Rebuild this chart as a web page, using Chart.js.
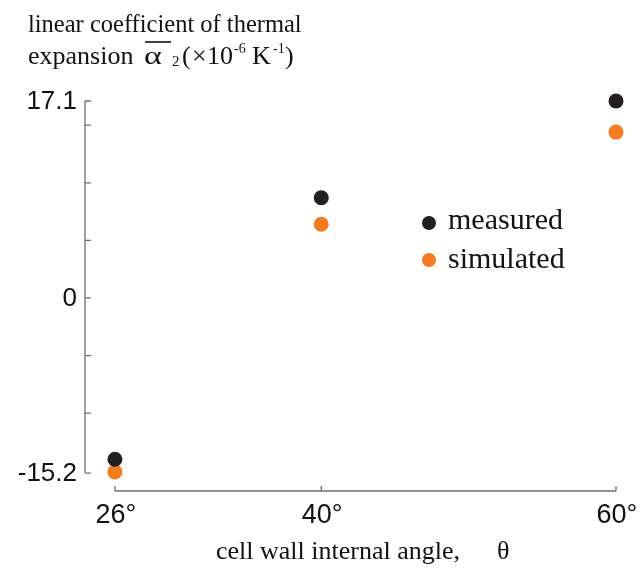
<!DOCTYPE html>
<html>
<head>
<meta charset="utf-8">
<script src="https://cdn.jsdelivr.net/npm/chart.js@4.4.0/dist/chart.umd.min.js"></script>
<style>
  html, body { margin: 0; padding: 0; background: #fff; }
  #wrap { width: 643px; height: 571px; }
</style>
</head>
<body>
<div id="wrap"><canvas id="cte" width="643" height="571"></canvas></div>
<script>
// data
const angles = [26, 40, 60];
const angleLabels = ['26°', '40°', '60°'];
const measured = [-14.0, 8.7, 17.1];
const simulated = [-15.1, 6.4, 14.4];
const yTicks = [-15.2, -10, -5, 0, 5, 10, 15, 17.1];
const yTickLabels = ['-15.2', '0', '17.1'];

const axisColor = '#6f6f6f';
const serif = '"Liberation Serif", "Times New Roman", serif';
const sans = '"Liberation Sans", Arial, sans-serif';

// axes, labels, titles and legend drawn by hand (offset axes like the original)
const axesPlugin = {
    id: 'axesPlugin',
    afterDraw(chart) {
        const ctx = chart.ctx;
        const x = chart.scales.x;
        const y = chart.scales.y;
        const left = chart.chartArea.left;
        const bottom = chart.chartArea.bottom;

        ctx.save();
        ctx.strokeStyle = axisColor;
        ctx.lineWidth = 1.3;

        // y axis
        const yTop = y.getPixelForValue(yTicks[yTicks.length - 1]);
        const yBot = y.getPixelForValue(yTicks[0]);
        ctx.beginPath();
        ctx.moveTo(left, yTop);
        ctx.lineTo(left, yBot);
        yTicks.forEach(v => {
            const py = y.getPixelForValue(v);
            ctx.moveTo(left, py);
            ctx.lineTo(left + 6, py);
        });
        // x axis
        const xL = x.getPixelForValue(angles[0]);
        const xR = x.getPixelForValue(angles[angles.length - 1]);
        ctx.moveTo(xL, bottom);
        ctx.lineTo(xR, bottom);
        angles.forEach(v => {
            const px = x.getPixelForValue(v);
            ctx.moveTo(px, bottom);
            ctx.lineTo(px, bottom - 5);
        });
        ctx.stroke();

        // tick labels
        ctx.fillStyle = '#111';
        ctx.font = '26px ' + sans;
        ctx.textAlign = 'right';
        ctx.textBaseline = 'middle';
        yTickLabels.forEach(t => {
            ctx.fillText(t, left - 8, y.getPixelForValue(parseFloat(t)) + 1);
        });
        ctx.font = '27px ' + sans;
        ctx.textAlign = 'center';
        ctx.textBaseline = 'alphabetic';
        angles.forEach((v, i) => {
            ctx.fillText(angleLabels[i], x.getPixelForValue(v) + 1, 523);
        });

        // x title
        ctx.font = '26px ' + serif;
        ctx.textAlign = 'left';
        ctx.fillText('cell wall internal angle,', 216, 559);
        ctx.fillText('\u03b8', 497, 559);

        // y title (two lines, with sub/superscripts)
        ctx.font = '24.5px ' + serif;
        ctx.fillText('linear coefficient of thermal', 28, 32);
        const base = 64;
        const piece = (txt, px, font, dy) => {
            ctx.font = font;
            ctx.fillText(txt, px, base + dy);
        };
        piece('expansion', 28, '26px ' + serif, 0);
        ctx.save();
        ctx.translate(144, base);
        ctx.scale(1.3, 1);
        ctx.font = '26px ' + serif;
        ctx.fillText('\u03b1', 0, 0);
        ctx.restore();
        ctx.beginPath();
        ctx.strokeStyle = '#111';
        ctx.lineWidth = 1.6;
        ctx.moveTo(145, 42);
        ctx.lineTo(171, 42);
        ctx.stroke();
        piece('2', 172, '15px ' + serif, 2);
        piece('(', 182, '26px ' + serif, 0);
        piece('\u00d7', 192, '26px ' + serif, 0);
        piece('10', 207, '26px ' + serif, 0);
        piece('-6', 234, '14px ' + serif, -11);
        piece('K', 252, '26px ' + serif, 0);
        piece('-1', 273, '14px ' + serif, -11);
        piece(')', 285, '26px ' + serif, 0);

        // legend
        ctx.font = '30px ' + serif;
        const legend = [
            { name: 'measured', color: chart.data.datasets[0].backgroundColor, y: 223, base: 229 },
            { name: 'simulated', color: chart.data.datasets[1].backgroundColor, y: 260, base: 268 }
        ];
        legend.forEach(l => {
            ctx.beginPath();
            ctx.fillStyle = l.color;
            ctx.arc(429, l.y, 7, 0, Math.PI * 2);
            ctx.fill();
            ctx.fillStyle = '#111';
            ctx.fillText(l.name, 448, l.base);
        });
        ctx.restore();
    }
};

new Chart(document.getElementById('cte'), {
    type: 'scatter',
    data: {
        datasets: [{
            label: 'measured',
            data: angles.map((a, i) => ({ x: a, y: measured[i] })),
            backgroundColor: '#231f20',
            borderWidth: 0,
            pointRadius: 7.5,
            clip: false
        }, {
            label: 'simulated',
            data: angles.map((a, i) => ({ x: a, y: simulated[i] })),
            backgroundColor: '#f47b20',
            borderWidth: 0,
            pointRadius: 7.5,
            clip: false
        }]
    },
    options: {
        responsive: false,
        animation: false,
        layout: { padding: { left: 85, right: 27, top: 101, bottom: 80 } },
        plugins: {
            legend: { display: false },
            tooltip: { enabled: false }
        },
        scales: {
            x: { type: 'linear', display: false, min: 23.97, max: 60 },
            y: { type: 'linear', display: false, min: -16.76, max: 17.1 }
        }
    },
    plugins: [axesPlugin]
});
</script>
</body>
</html>
